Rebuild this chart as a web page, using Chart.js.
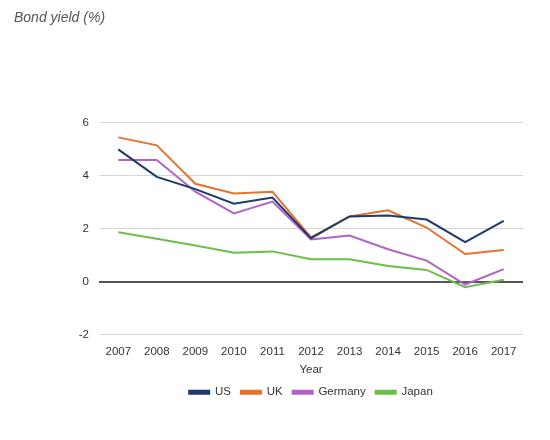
<!DOCTYPE html>
<html>
<head>
<meta charset="utf-8">
<script src="https://cdn.jsdelivr.net/npm/chart.js@4"></script>
<style>
  html, body { margin: 0; padding: 0; background: #fff; }
  #wrap { width: 550px; height: 440px; }
</style>
</head>
<body>
<div id="wrap"><canvas id="chart"></canvas></div>
<script>
// chart data
const years = ["2007", "2008", "2009", "2010", "2011", "2012", "2013", "2014", "2015", "2016", "2017"];
const usYield = [5.0, 3.96, 3.5, 2.95, 3.18, 1.65, 2.47, 2.5, 2.35, 1.5, 2.3];
const ukYield = [5.45, 5.15, 3.7, 3.33, 3.4, 1.68, 2.47, 2.7, 2.05, 1.05, 1.2];
const germanyYield = [4.6, 4.6, 3.4, 2.58, 3.03, 1.6, 1.75, 1.23, 0.8, -0.1, 0.48];
const japanYield = [1.87, 1.63, 1.37, 1.1, 1.15, 0.85, 0.85, 0.6, 0.45, -0.2, 0.08];

const fontFam = "'Liberation Sans Narrow', 'Liberation Sans', Arial, sans-serif";

function series(label, data, color) {
  return {
    label: label,
    data: data,
    borderColor: color,
    backgroundColor: color,
    borderWidth: 2,
    pointRadius: 0,
    tension: 0,
  };
}

const ctx = document.getElementById("chart").getContext("2d");
new Chart(ctx, {
  type: "line",
  data: {
    labels: years,
    datasets: [
      series("US", usYield, "#1d3a68"),
      series("UK", ukYield, "#e5722e"),
      series("Germany", germanyYield, "#b163c9"),
      series("Japan", japanYield, "#6cbf47"),
    ],
  },
  options: {
    responsive: true,
    maintainAspectRatio: false,
    animation: false,
    layout: { padding: { left: 14, right: 27, top: 4, bottom: 32 } },
    plugins: {
      title: {
        display: true,
        text: "Bond yield (%)",
        align: "start",
        color: "#555",
        font: { family: fontFam, size: 14, style: "italic", weight: "normal" },
        padding: { top: 6, bottom: 96 },
      },
      legend: {
        position: "bottom",
        fullSize: false, // center the legend under the plot area
        labels: {
          color: "#333",
          font: { family: fontFam, size: 11.5 },
          boxWidth: 20,
          boxHeight: 3,
          padding: 10,
        },
      },
      tooltip: { enabled: false },
    },
    scales: {
      x: {
        offset: true,
        grid: { display: false },
        border: { display: false },
        ticks: { color: "#333", font: { family: fontFam, size: 11.5 }, maxRotation: 0, padding: 2 },
        title: {
          display: true,
          text: "Year",
          color: "#333",
          font: { family: fontFam, size: 11.5 },
          padding: { top: 2, bottom: 0 },
        },
      },
      y: {
        min: -2,
        max: 6,
        border: { display: false },
        afterFit: (scale) => { scale.width = 85; },
        grid: {
          drawTicks: false,
          color: (c) => (c.tick && c.tick.value === 0 ? "#555" : "#d6d6d6"),
          lineWidth: (c) => (c.tick && c.tick.value === 0 ? 2 : 1),
        },
        ticks: {
          stepSize: 2,
          padding: 10,
          color: "#333",
          font: { family: fontFam, size: 11.5 },
        },
      },
    },
  },
});
</script>
</body>
</html>
